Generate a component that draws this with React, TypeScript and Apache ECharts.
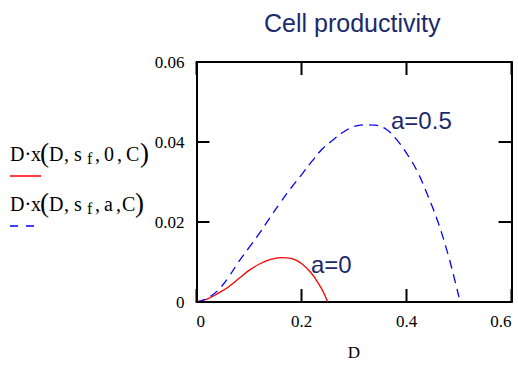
import React, { useEffect, useRef } from "react";
import * as echarts from "echarts";

const TITLE = "Cell productivity";
const X_NAME = "D";
const X_MIN = 0;
const X_MAX = 0.6;
const X_STEP = 0.2;
const Y_MIN = 0;
const Y_MAX = 0.06;
const Y_STEP = 0.02;
const X_TICKS = [0, 0.2, 0.4, 0.6];
const Y_TICKS = [0, 0.02, 0.04, 0.06];

// a = 0 (red, solid)
const D_A0 = [0, 0.02, 0.04, 0.06, 0.08, 0.1, 0.12, 0.14, 0.16, 0.18, 0.2, 0.22, 0.23, 0.24, 0.25];
const P_A0 = [0, 0.0007, 0.0021, 0.0037, 0.0058, 0.0079, 0.0095, 0.0106, 0.0111, 0.0109, 0.0096, 0.007, 0.0051, 0.0029, 0];

// a = 0.5 (blue, dashed)
const D_A05 = [0, 0.02, 0.04, 0.06, 0.08, 0.1, 0.12, 0.14, 0.16, 0.18, 0.2, 0.22, 0.24, 0.26, 0.28, 0.3, 0.32, 0.34, 0.36, 0.38, 0.4, 0.42, 0.44, 0.46, 0.48, 0.49, 0.5];
const P_A05 = [0, 0.0009, 0.0028, 0.006, 0.01, 0.0136, 0.0172, 0.0211, 0.0249, 0.0285, 0.0318, 0.0352, 0.0383, 0.0405, 0.0425, 0.0439, 0.0443, 0.0442, 0.0433, 0.0408, 0.0372, 0.0328, 0.0268, 0.02, 0.0115, 0.0065, 0.0012];

const ANNOT_A0 = "a=0";
const ANNOT_A05 = "a=0.5";
const LEGEND_ARG_A0 = "0";
const LEGEND_ARG_A05 = "a";

const NAVY = "#1b2a6b";
const SERIF = "'Liberation Serif', 'Times New Roman', serif";
const SANS = "'Liberation Sans', Arial, sans-serif";
const TICK_LEN = 13;

const W = 518;
const H = 367;
const GRID_L = 196.5;
const GRID_R = 6.5;
const GRID_T = 62;
const GRID_B = 65;

function pairs(xs: number[], ys: number[]) {
  return xs.map((x, i) => [x, ys[i]]);
}

function legendRow(cy: number, arg: string, argX: number, commaX: number, cX: number, closeX: number) {
  const t = (text: string, x: number, y: number, size: number) => ({
    type: "text",
    x,
    y,
    style: { text, fontFamily: SERIF, fontSize: size, fill: "#000", align: "left", verticalAlign: "middle" },
  });
  return [
    t("D·x", 10, cy, 20),
    t("(", 40, cy - 1, 27),
    t("D", 49, cy, 20),
    t(",", 64, cy, 20),
    t("s", 74, cy, 20),
    t("f", 87, cy + 4, 16),
    t(",", 95, cy, 20),
    t(arg, argX, cy, 20),
    t(",", commaX, cy, 20),
    t("C", cX, cy, 20),
    t(")", closeX, cy - 1, 27),
  ];
}

// Tick marks along the frame, placed from the same grid extents the axes use.
function frameTicks() {
  const plotW = W - GRID_L - GRID_R;
  const plotH = H - GRID_T - GRID_B;
  const sx = (v: number) => GRID_L + ((v - X_MIN) / (X_MAX - X_MIN)) * plotW;
  const sy = (v: number) => GRID_T + ((Y_MAX - v) / (Y_MAX - Y_MIN)) * plotH;
  const yb = sy(Y_MIN);
  const yt = sy(Y_MAX);
  const xl = sx(X_MIN);
  const xr = sx(X_MAX);
  const els: any[] = [];
  const st = () => ({ stroke: "#000", lineWidth: 2 });
  X_TICKS.forEach((v) => {
    const x = sx(v);
    els.push({ type: "line", z: 100, shape: { x1: x, y1: yb, x2: x, y2: yb - TICK_LEN }, style: st() });
    els.push({ type: "line", z: 100, shape: { x1: x, y1: yt, x2: x, y2: yt + TICK_LEN }, style: st() });
  });
  Y_TICKS.forEach((v) => {
    const y = sy(v);
    els.push({ type: "line", z: 100, shape: { x1: xl, y1: y, x2: xl + TICK_LEN, y2: y }, style: st() });
    els.push({ type: "line", z: 100, shape: { x1: xr, y1: y, x2: xr - TICK_LEN, y2: y }, style: st() });
  });
  return els;
}

export default function App() {
  const ref = useRef<HTMLDivElement>(null);
  useEffect(() => {
    const chart = echarts.init(ref.current!, null, { renderer: "svg" });
    const frameLine = () => ({ show: true, onZero: false, lineStyle: { color: "#000", width: 2 } });
    const option: any = {
      animation: false,
      title: {
        text: TITLE,
        left: 264,
        top: 10,
        padding: 0,
        textStyle: { fontFamily: SANS, fontSize: 25, fontWeight: "normal", color: NAVY },
      },
      grid: { left: GRID_L, right: GRID_R, top: GRID_T, bottom: GRID_B },
      xAxis: [
        {
          type: "value",
          min: X_MIN,
          max: X_MAX,
          interval: X_STEP,
          position: "bottom",
          axisLine: frameLine(),
          axisTick: { show: false },
          splitLine: { show: false },
          axisLabel: {
            margin: 11,
            fontFamily: SERIF,
            fontSize: 17,
            color: "#000",
            alignMinLabel: "left",
            alignMaxLabel: "right",
          },
          name: X_NAME,
          nameLocation: "middle",
          nameGap: 42,
          nameTextStyle: { fontFamily: SERIF, fontSize: 17, color: "#000" },
        },
        {
          type: "value",
          min: X_MIN,
          max: X_MAX,
          interval: X_STEP,
          position: "top",
          axisLine: frameLine(),
          axisTick: { show: false },
          splitLine: { show: false },
          axisLabel: { show: false },
        },
      ],
      yAxis: [
        {
          type: "value",
          min: Y_MIN,
          max: Y_MAX,
          interval: Y_STEP,
          position: "left",
          axisLine: frameLine(),
          axisTick: { show: false },
          splitLine: { show: false },
          axisLabel: { margin: 12, fontFamily: SERIF, fontSize: 17, color: "#000" },
        },
        {
          type: "value",
          min: Y_MIN,
          max: Y_MAX,
          interval: Y_STEP,
          position: "right",
          axisLine: frameLine(),
          axisTick: { show: false },
          splitLine: { show: false },
          axisLabel: { show: false },
        },
      ],
      series: [
        {
          name: "a=0",
          type: "line",
          xAxisIndex: 0,
          yAxisIndex: 0,
          data: pairs(D_A0, P_A0),
          showSymbol: false,
          smooth: 0.4,
          lineStyle: { color: "#ff0000", width: 1.3 },
          itemStyle: { color: "#ff0000" },
        },
        {
          name: "a=0.5",
          type: "line",
          xAxisIndex: 0,
          yAxisIndex: 0,
          data: pairs(D_A05, P_A05),
          showSymbol: false,
          smooth: 0.4,
          lineStyle: { color: "#0000ff", width: 1.3, type: [9, 6] },
          itemStyle: { color: "#0000ff" },
        },
      ],
      graphic: [
        ...frameTicks(),
        {
          type: "text",
          x: 391,
          y: 120.5,
          style: { text: ANNOT_A05, fontFamily: SANS, fontSize: 24, fill: NAVY, align: "left", verticalAlign: "middle" },
        },
        {
          type: "text",
          x: 311,
          y: 264,
          style: { text: ANNOT_A0, fontFamily: SANS, fontSize: 24, fill: NAVY, align: "left", verticalAlign: "middle" },
        },
        ...legendRow(154, LEGEND_ARG_A0, 104, 117, 126, 140),
        {
          type: "line",
          shape: { x1: 10, y1: 176, x2: 41, y2: 176 },
          style: { stroke: "#ff0000", lineWidth: 1.5 },
        },
        ...legendRow(204, LEGEND_ARG_A05, 104, 116, 122, 135),
        {
          type: "line",
          shape: { x1: 10, y1: 226, x2: 34, y2: 226 },
          style: { stroke: "#0000ff", lineWidth: 1.5, lineDash: [8, 8] },
        },
      ],
    };
    chart.setOption(option);
    return () => chart.dispose();
  }, []);
  return <div ref={ref} style={{ position: "absolute", left: 0, top: 0, width: W, height: H }} />;
}
